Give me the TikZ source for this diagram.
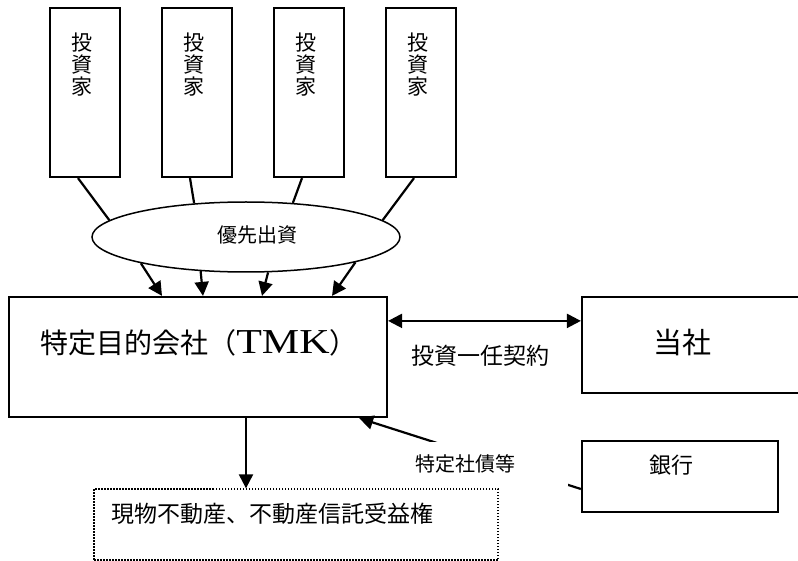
\documentclass[tikz,border=0pt]{standalone}
\usepackage{fontspec}
\setmainfont{Liberation Serif}
\newfontfamily\jp{Noto Sans CJK JP}
\usetikzlibrary{arrows.meta,shapes.geometric,calc}
\begin{document}
\begin{tikzpicture}[x=1pt,y=-1pt,
  box/.style={draw,line width=2.2pt,inner sep=0pt},
  conn/.style={line width=2.2pt},
  arr/.style={line width=2.2pt,-{Triangle[length=14pt,width=14pt]}},
  txt/.style={inner sep=0pt,font=\jp}]
\useasboundingbox (0,0) rectangle (798,561);

\foreach \i/\x in {1/85,2/197,3/309,4/421} {
  \node[box,minimum width=70pt,minimum height=169pt] (inv\i) at (\x,92.5) {};
  \node[txt,align=center,font=\jp\fontsize{21}{22}\selectfont] (invt\i) at (\x-3,65) {投\\資\\家};
}

\node[draw,ellipse,line width=1.5pt,minimum width=308pt,minimum height=70pt,inner sep=0pt] (el) at (246,237) {};
\node[txt,font=\jp\fontsize{20}{20}\selectfont] (elt) at (257,235) {優先出資};

\draw[conn] ($(inv1.south)+(-7,0)$) -- (el.173);
\draw[conn] ($(inv2.south)+(-7,0)$) -- (el.147);
\draw[conn] ($(inv3.south)+(-7,0)$) -- (el.36);
\draw[conn] ($(inv4.south)+(-7,0)$) -- (el.7);

\node[box,minimum width=378pt,minimum height=120pt] (tmk) at (198,357) {};
\node[inner sep=0pt] (tmkt) at (199,343) {{\jp\fontsize{28}{28}\selectfont 特定目的会社（}\scalebox{1.2}[1]{\fontsize{35}{35}\selectfont TMK}{\jp\fontsize{28}{28}\selectfont ）}};

\draw[arr] (el.194) -- ($(tmk.north)+(-36,0)$);
\draw[arr] (el.217) -- ($(tmk.north)+(5,0)$);
\draw[arr] (el.302) -- ($(tmk.north)+(64,0)$);
\draw[arr] (el.347) -- ($(tmk.north)+(134,0)$);

\node[box,minimum width=222pt,minimum height=96pt] (tosha) at (693,345) {};
\node[txt,font=\jp\fontsize{29}{29}\selectfont] (tosht) at (682,342) {当社};
\draw[line width=2.2pt,{Triangle[length=14pt,width=14pt]}-{Triangle[length=14pt,width=14pt]}] ($(tmk.north east)+(0,25)$) -- ($(tosha.north west)+(0,25)$);
\node[txt,font=\jp\fontsize{23}{23}\selectfont] (kei) at (480,356) {投資一任契約};

\node[draw,line width=1.3pt,dash pattern=on 1.5pt off 1.5pt,inner sep=0pt,minimum width=404pt,minimum height=71pt] (re) at (296,524.5) {};
\node[txt,font=\jp\fontsize{23}{23}\selectfont] (ret) at (272,514) {現物不動産、不動産信託受益権};
\coordinate (dn) at ($(tmk.south)+(48,0)$);
\draw[arr] (dn) -- (dn |- re.north);

\node[box,minimum width=196pt,minimum height=71pt] (bank) at (680,476.5) {};
\node[txt,font=\jp\fontsize{22}{22}\selectfont] (bankt) at (671,465) {銀行};
\draw[arr] ($(bank.west)+(0,12.5)$) -- ($(tmk.south east)+(-29,0)$);
\node[fill=white,inner sep=0pt,minimum width=163pt,minimum height=44pt] (sbbg) at (486.5,464) {};
\node[txt,font=\jp\fontsize{20}{20}\selectfont] (sbt) at (465,464) {特定社債等};
\end{tikzpicture}
\end{document}
